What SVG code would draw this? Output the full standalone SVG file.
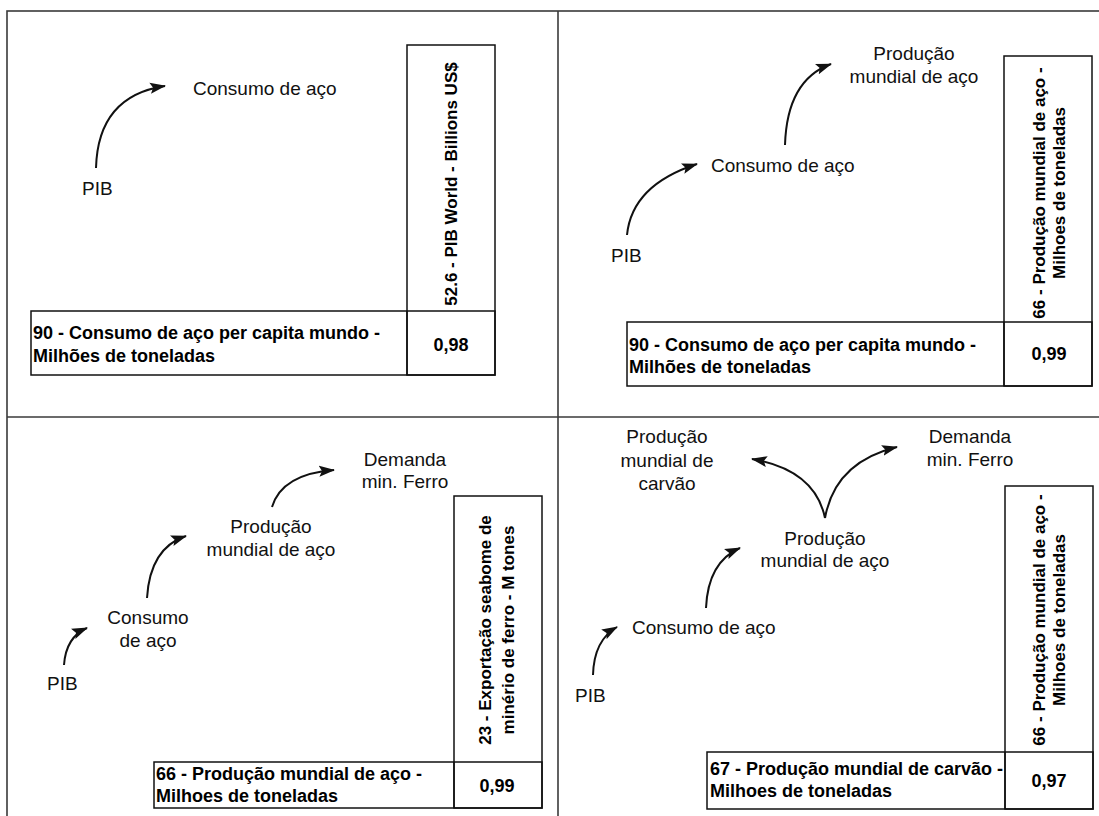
<svg xmlns="http://www.w3.org/2000/svg" width="1099" height="816" viewBox="0 0 1099 816">
<style>
.frame{fill:none;stroke:#3a3a3a;stroke-width:1.6}
.tbl{fill:none;stroke:#111;stroke-width:1.5}
.lbl{font-family:"Liberation Sans",Arial,sans-serif;font-size:19px;fill:#111}
.c{text-anchor:middle}
.b{font-family:"Liberation Sans",Arial,sans-serif;font-size:18px;font-weight:bold;fill:#000}
.v{font-family:"Liberation Sans",Arial,sans-serif;font-size:17px;font-weight:bold;fill:#000;text-anchor:middle}
.arr{fill:none;stroke:#111;stroke-width:2;marker-end:url(#ah)}
</style>
<defs>
<marker id="ah" markerUnits="userSpaceOnUse" markerWidth="18" markerHeight="12" refX="15" refY="6" orient="auto">
<path d="M0,0.5 L16,6 L0,11.5 L3,6 z" fill="#111"/>
</marker>
</defs>
<rect width="1099" height="816" fill="#fff"/>
<g id="frame">
<rect class="frame" x="7" y="11" width="1110" height="830"/>
<line class="frame" x1="558" y1="11" x2="558" y2="830"/>
<line class="frame" x1="7" y1="417" x2="1110" y2="417"/>
</g>

<g id="connectors">
<path class="arr" d="M96,168 Q98,96 165,86"/>
<path class="arr" d="M627,235 Q632,185 697,164"/>
<path class="arr" d="M785,145 Q787,80 831,64"/>
<path class="arr" d="M64,665 Q66,637 87,628"/>
<path class="arr" d="M147,598 Q150,548 186,536"/>
<path class="arr" d="M272,507 Q282,474 334,470"/>
<path class="arr" d="M593,675 Q594,640 617,627"/>
<path class="arr" d="M706,608 Q708,562 740,548"/>
<path class="arr" d="M825,518 Q815,470 752,459"/>
<path class="arr" d="M825,518 Q835,462 897,447"/>
</g>

<!-- Quadrant 1 -->
<g id="q1-pib"><text class="lbl" x="82" y="195">PIB</text></g>
<g id="q1-consumo"><text class="lbl" x="193" y="95">Consumo de aço</text></g>
<g id="q1-table">
<rect class="tbl" x="407" y="45" width="88" height="330"/>
<rect class="tbl" x="31" y="311" width="464" height="64"/>
<line class="tbl" x1="407" y1="311" x2="407" y2="375"/>
<text class="v" transform="translate(457,184) rotate(-90)">52.6 - PIB World - Billions US$</text>
<text class="b" x="33" y="339">90 - Consumo de aço per capita mundo -</text>
<text class="b" x="33" y="362">Milhões de toneladas</text>
<text class="b c" x="451" y="351">0,98</text>
</g>

<!-- Quadrant 2 -->
<g id="q2-pib"><text class="lbl" x="611" y="262">PIB</text></g>
<g id="q2-consumo"><text class="lbl" x="711" y="172">Consumo de aço</text></g>
<g id="q2-producao"><text class="lbl c" x="914" y="60">Produção</text><text class="lbl c" x="914" y="83">mundial de aço</text></g>
<g id="q2-table">
<rect class="tbl" x="1004" y="56" width="88" height="330"/>
<rect class="tbl" x="627" y="322" width="465" height="64"/>
<line class="tbl" x1="1004" y1="322" x2="1004" y2="386"/>
<text class="v" transform="translate(1045,193) rotate(-90)">66 - Produção mundial de aço -</text>
<text class="v" transform="translate(1065,193) rotate(-90)">Milhoes de toneladas</text>
<text class="b" x="629" y="351">90 - Consumo de aço per capita mundo -</text>
<text class="b" x="629" y="373">Milhões de toneladas</text>
<text class="b c" x="1049" y="360">0,99</text>
</g>

<!-- Quadrant 3 -->
<g id="q3-pib"><text class="lbl" x="47" y="690">PIB</text></g>
<g id="q3-consumo"><text class="lbl c" x="148" y="624">Consumo</text><text class="lbl c" x="148" y="647">de aço</text></g>
<g id="q3-producao"><text class="lbl c" x="271" y="533">Produção</text><text class="lbl c" x="271" y="556">mundial de aço</text></g>
<g id="q3-demanda"><text class="lbl c" x="405" y="466">Demanda</text><text class="lbl c" x="405" y="488">min. Ferro</text></g>
<g id="q3-table">
<rect class="tbl" x="454" y="496" width="88" height="312"/>
<rect class="tbl" x="154" y="762" width="388" height="46"/>
<line class="tbl" x1="454" y1="762" x2="454" y2="808"/>
<text class="v" transform="translate(491,630) rotate(-90)">23 - Exportação seabome de</text>
<text class="v" transform="translate(514,630) rotate(-90)">minério de ferro - M tones</text>
<text class="b" x="156" y="780">66 - Produção mundial de aço -</text>
<text class="b" x="156" y="802">Milhoes de toneladas</text>
<text class="b c" x="497" y="792">0,99</text>
</g>

<!-- Quadrant 4 -->
<g id="q4-pib"><text class="lbl" x="575" y="702">PIB</text></g>
<g id="q4-consumo"><text class="lbl" x="632" y="634">Consumo de aço</text></g>
<g id="q4-producao-aco"><text class="lbl c" x="825" y="545">Produção</text><text class="lbl c" x="825" y="567">mundial de aço</text></g>
<g id="q4-producao-carvao"><text class="lbl c" x="667" y="443">Produção</text><text class="lbl c" x="667" y="467">mundial de</text><text class="lbl c" x="667" y="490">carvão</text></g>
<g id="q4-demanda"><text class="lbl c" x="970" y="443">Demanda</text><text class="lbl c" x="970" y="466">min. Ferro</text></g>
<g id="q4-table">
<rect class="tbl" x="1005" y="486" width="88" height="323"/>
<rect class="tbl" x="707" y="752" width="386" height="57"/>
<line class="tbl" x1="1005" y1="752" x2="1005" y2="809"/>
<text class="v" transform="translate(1045,620) rotate(-90)">66 - Produção mundial de aço -</text>
<text class="v" transform="translate(1065,620) rotate(-90)">Milhoes de toneladas</text>
<text class="b" x="710" y="775">67 - Produção mundial de carvão -</text>
<text class="b" x="710" y="797">Milhoes de toneladas</text>
<text class="b c" x="1049" y="787">0,97</text>
</g>
</svg>
